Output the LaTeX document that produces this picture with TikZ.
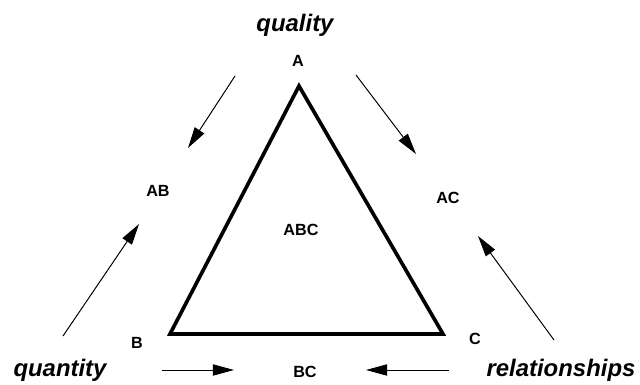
\documentclass[tikz,border=0pt]{standalone}
\usepackage{fontspec}
\setmainfont{Liberation Sans}
\usepackage{tikz}
\usetikzlibrary{arrows.meta}

\tikzset{
  corner/.style={font=\bfseries\fontsize{11.5}{13}\selectfont},
  aspect/.style={font=\bfseries\itshape\fontsize{17}{20}\selectfont},
  push/.style={-{Triangle[length=15pt,width=8pt]}, line width=0.7pt},
}

\begin{document}
\begin{tikzpicture}[x=0.025cm, y=-0.025cm]
			\useasboundingbox (0,0) rectangle (640,385);

			% triangle
			\coordinate (tA) at (299,86);
			\coordinate (tB) at (170,334);
			\coordinate (tC) at (443,334);
			\draw[black, line width=2.6pt, line join=miter] (tA) -- (tB) -- (tC) -- cycle;

			% corner and side labels
			\node[corner] (lA)   at (298,61)  {A};
			\node[corner] (lB)   at (137,343) {B};
			\node[corner] (lC)   at (475,339) {C};
			\node[corner] (lAB)  at (158,191) {AB};
			\node[corner] (lAC)  at (448,198) {AC};
			\node[corner] (lBC)  at (305,372) {BC};
			\node[corner] (lABC) at (301,230) {ABC};

			% aspects
			\node[aspect] (qual) at (295,25)  {quality};
			\node[aspect] (quan) at (60,370)  {quantity};
			\node[aspect] (rel)  at (561,370) {relationships};

			% arrows towards the pair labels
			\coordinate (s1) at (235,76);  \coordinate (e1) at (188,148);
			\coordinate (s2) at (356,75);  \coordinate (e2) at (416,154);
			\coordinate (s3) at (63,336);  \coordinate (e3) at (139,224);
			\coordinate (s4) at (554,340); \coordinate (e4) at (478,236);
			\coordinate (s5) at (162,370); \coordinate (e5) at (234,370);
			\coordinate (s6) at (449,370); \coordinate (e6) at (366,370);

			\draw[push] (s1) -- (e1);
			\draw[push] (s2) -- (e2);
			\draw[push] (s3) -- (e3);
			\draw[push] (s4) -- (e4);
			\draw[push] (s5) -- (e5);
			\draw[push] (s6) -- (e6);

		\end{tikzpicture}
\end{document}
